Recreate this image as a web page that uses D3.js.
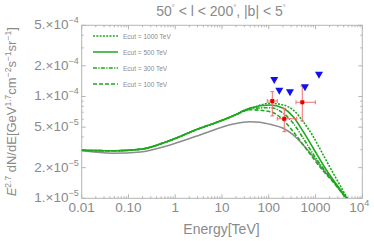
<!DOCTYPE html>
<html>
<head>
<meta charset="utf-8">
<script src="https://cdn.jsdelivr.net/npm/d3@7"></script>
<style>
  body { margin: 0; background: #fff; }
  svg { font-family: "Liberation Sans", Arial, sans-serif; }
  .lbl { fill: #8a8a8a; }
</style>
</head>
<body>
<svg width="374" height="241"></svg>
<script>
// model curves (energy in TeV, E^2.7 dN/dE)
var greenBaseE = [0.01, 0.05, 0.2, 0.66, 3.4, 8, 17];
var greenBaseV = [2.96e-5, 2.93e-5, 3.05e-5, 3.6e-5, 4.88e-5, 5.6e-5, 6.43e-5];

var tailE = [40, 106, 204, 334, 547, 895, 1466, 2399];
var cut1000V = [7.55e-5, 8.57e-5, 8.26e-5, 7.36e-5, 5.65e-5, 4.03e-5, 2.66e-5, 1.76e-5];
var cut500V  = [7.7e-5, 8.26e-5, 7.66e-5, 6.33e-5, 4.51e-5, 3.10e-5, 2.12e-5, 1.51e-5];
var cut300V  = [7.6e-5, 7.76e-5, 6.84e-5, 5.45e-5, 3.88e-5, 2.71e-5, 1.97e-5, 1.46e-5];
var cut100V  = [7.4e-5, 7.09e-5, 5.87e-5, 4.51e-5, 3.34e-5, 2.47e-5, 1.85e-5, 1.44e-5];
var endE = [4800, 4700, 4550, 4450];

var grayE = [0.01, 0.047, 0.18, 0.66, 3.38, 17.4, 39.6, 64.9, 106, 204, 334, 547, 895, 1466, 2399, 4600];
var grayV = [2.94e-5, 2.77e-5, 2.85e-5, 3.27e-5, 4.19e-5, 5.37e-5, 5.65e-5, 5.58e-5, 5.33e-5, 4.87e-5, 4.19e-5, 3.34e-5, 2.56e-5, 1.90e-5, 1.46e-5, 1.0e-5];

// measured points with error bars
var ptE   = [119, 215, 521];
var ptElo = [92.9, 152, 382];
var ptEhi = [152, 395, 988];
var ptV   = [9.03e-5, 6.05e-5, 8.77e-5];
var ptVlo = [6.44e-5, 4.51e-5, 5.74e-5];
var ptVhi = [1.115e-4, 7.66e-5, 1.27e-4];

// upper limits
var ulE = [131, 168, 284, 594, 1186];
var ulV = [1.45e-4, 1.14e-4, 1.10e-4, 1.23e-4, 1.63e-4];

var legendNames = ['Ecut = 1000 TeV', 'Ecut = 500 TeV', 'Ecut = 300 TeV', 'Ecut = 100 TeV'];
var dashes = ['2,1.3', null, '4,1.3,1.3,1.3', '4,2'];

var xTicks = [0.01, 0.1, 1, 10, 100, 1000, 10000];
var xTickText = ['0.01', '0.10', '1', '10', '100', '1000', null];
var yTicks = [1e-5, 2e-5, 5e-5, 1e-4, 2e-4, 5e-4];
var yTickMant = ['1.', '2.', '5.', '1.', '2.', '5.'];
var yTickExp = ['-5', '-5', '-5', '-4', '-4', '-4'];

var svg = d3.select('svg');
var green = '#1ea81e';
var axisCol = '#b4b4b4';

var plot = {l: 81.7, r: 362.3, t: 25.3, b: 198.3};
var xScale = d3.scaleLog().domain([0.01, 1e4]).range([plot.l, plot.r]);
var yScale = d3.scaleLog().domain([1e-5, 5e-4]).range([plot.b, plot.t]);

svg.append('clipPath').attr('id', 'clip')
  .append('rect').attr('x', plot.l).attr('y', plot.t)
  .attr('width', plot.r - plot.l).attr('height', plot.b - plot.t);

// frame + ticks
var frame = svg.append('g');
frame.append('rect').attr('x', plot.l).attr('y', plot.t)
  .attr('width', plot.r - plot.l).attr('height', plot.b - plot.t)
  .attr('fill', 'none').attr('stroke', axisCol).attr('stroke-width', 1);

var xMinor = [];
for (var p = -2; p < 4; p++) for (var m = 2; m < 10; m++) xMinor.push(m * Math.pow(10, p));
var yMinor = [];
for (var q = -5; q < -3; q++) for (var k = 1; k < 10; k++) {
  var v = k * Math.pow(10, q);
  if (v <= 5e-4 && !yTicks.some(function(t){ return Math.abs(t - v) / v < 1e-6; })) yMinor.push(v);
}

function xTick(vals, len) {
  vals.forEach(function(d) {
    var x = xScale(d);
    frame.append('line').attr('x1', x).attr('x2', x).attr('y1', plot.b).attr('y2', plot.b - len).attr('stroke', axisCol);
    frame.append('line').attr('x1', x).attr('x2', x).attr('y1', plot.t).attr('y2', plot.t + len).attr('stroke', axisCol);
  });
}
function yTick(vals, len) {
  vals.forEach(function(d) {
    var y = yScale(d);
    frame.append('line').attr('y1', y).attr('y2', y).attr('x1', plot.l).attr('x2', plot.l + len).attr('stroke', axisCol);
    frame.append('line').attr('y1', y).attr('y2', y).attr('x1', plot.r).attr('x2', plot.r - len).attr('stroke', axisCol);
  });
}
xTick(xTicks, 4); xTick(xMinor, 2);
yTick(yTicks, 4); yTick(yMinor, 2);

// x tick labels
xTicks.forEach(function(d, i) {
  var t = svg.append('text').attr('class', 'lbl').attr('x', xScale(d)).attr('y', plot.b + 14)
    .attr('text-anchor', 'middle').attr('font-size', 13.5);
  if (xTickText[i]) t.text(xTickText[i]);
  else {
    t.attr('x', xScale(d) - 3);
    t.append('tspan').text('10');
    t.append('tspan').attr('font-size', 9).attr('dy', -6).text('4');
  }
});

// y tick labels
yTicks.forEach(function(d, i) {
  var t = svg.append('text').attr('class', 'lbl').attr('x', plot.l - 3).attr('y', yScale(d) + 4)
    .attr('text-anchor', 'end').attr('font-size', 13.5);
  t.append('tspan').text(yTickMant[i] + '\u00d710');
  t.append('tspan').attr('font-size', 9).attr('dy', -6).text('\u2212' + yTickExp[i].slice(1));
});

// axis titles
svg.append('text').attr('class', 'lbl').attr('x', 221.5).attr('y', 234)
  .attr('text-anchor', 'middle').attr('font-size', 14).text('Energy[TeV]');

var yl = svg.append('text').attr('class', 'lbl').attr('font-size', 13)
  .attr('text-anchor', 'middle')
  .attr('transform', 'translate(16,' + (plot.t + plot.b) / 2 + ')rotate(-90)');
yl.append('tspan').attr('font-style', 'italic').text('E');
yl.append('tspan').attr('font-size', 8.5).attr('dy', -5).text('2.7');
yl.append('tspan').attr('dy', 5).text(' dN/dE[GeV');
yl.append('tspan').attr('font-size', 8.5).attr('dy', -5).text('1.7');
yl.append('tspan').attr('dy', 5).text('cm');
yl.append('tspan').attr('font-size', 8.5).attr('dy', -5).text('\u22122');
yl.append('tspan').attr('dy', 5).text('s');
yl.append('tspan').attr('font-size', 8.5).attr('dy', -5).text('\u22121');
yl.append('tspan').attr('dy', 5).text('sr');
yl.append('tspan').attr('font-size', 8.5).attr('dy', -5).text('\u22121');
yl.append('tspan').attr('dy', 5).text(']');

// title
var tt = svg.append('text').attr('class', 'lbl').attr('x', 221).attr('y', 16)
  .attr('text-anchor', 'middle').attr('font-size', 14);
tt.append('tspan').text('50');
tt.append('tspan').attr('font-size', 7.5).attr('dy', -6).text('\u00b0');
tt.append('tspan').attr('dy', 6).text(' < l < 200');
tt.append('tspan').attr('font-size', 7.5).attr('dy', -6).text('\u00b0');
tt.append('tspan').attr('dy', 6).text(', |b| < 5');
tt.append('tspan').attr('font-size', 7.5).attr('dy', -6).text('\u00b0');

// curves
var line = d3.line()
  .x(function(d) { return xScale(d[0]); })
  .y(function(d) { return yScale(d[1]); })
  .curve(d3.curveMonotoneX);

var curves = svg.append('g').attr('clip-path', 'url(#clip)');

curves.append('path')
  .datum(d3.zip(grayE, grayV))
  .attr('d', line).attr('fill', 'none').attr('stroke', '#8c8c8c').attr('stroke-width', 1.5);

var tails = [cut1000V, cut500V, cut300V, cut100V];
tails.forEach(function(tv, i) {
  var pts = d3.zip(greenBaseE, greenBaseV).concat(d3.zip(tailE, tv)).concat([[endE[i], 1e-5]]);
  curves.append('path').datum(pts)
    .attr('d', line).attr('fill', 'none').attr('stroke', green)
    .attr('stroke-width', 1.6)
    .attr('stroke-dasharray', dashes[i]);
});

// error bars
var errCol = '#f07070';
var pts = svg.append('g');
ptE.forEach(function(e, i) {
  var x = xScale(e), y = yScale(ptV[i]);
  var x0 = xScale(ptElo[i]), x1 = xScale(ptEhi[i]);
  var y0 = yScale(ptVlo[i]), y1 = yScale(ptVhi[i]);
  pts.append('line').attr('x1', x0).attr('x2', x1).attr('y1', y).attr('y2', y).attr('stroke', errCol);
  pts.append('line').attr('x1', x).attr('x2', x).attr('y1', y0).attr('y2', y1).attr('stroke', errCol);
  [x0, x1].forEach(function(xx) {
    pts.append('line').attr('x1', xx).attr('x2', xx).attr('y1', y - 2).attr('y2', y + 2).attr('stroke', errCol);
  });
  [y0, y1].forEach(function(yy) {
    pts.append('line').attr('x1', x - 2).attr('x2', x + 2).attr('y1', yy).attr('y2', yy).attr('stroke', errCol);
  });
  pts.append('rect').attr('x', x - 2).attr('y', y - 2).attr('width', 4).attr('height', 4).attr('fill', '#e80000');
});

// upper limits
ulE.forEach(function(e, i) {
  var x = xScale(e), y = yScale(ulV[i]);
  svg.append('path')
    .attr('d', 'M' + (x - 4) + ',' + (y - 3) + 'L' + (x + 4) + ',' + (y - 3) + 'L' + x + ',' + (y + 4) + 'Z')
    .attr('fill', '#1010ee');
});

// legend
var leg = svg.append('g');
legendNames.forEach(function(n, i) {
  var y = 36 + i * 16;
  leg.append('line').attr('x1', 93).attr('x2', 118).attr('y1', y).attr('y2', y)
    .attr('stroke', green).attr('stroke-width', 1.5).attr('stroke-dasharray', dashes[i]);
  leg.append('text').attr('class', 'lbl').attr('x', 123).attr('y', y + 2.5)
    .attr('font-size', 6.5).text(n);
});
</script>
</body>
</html>
